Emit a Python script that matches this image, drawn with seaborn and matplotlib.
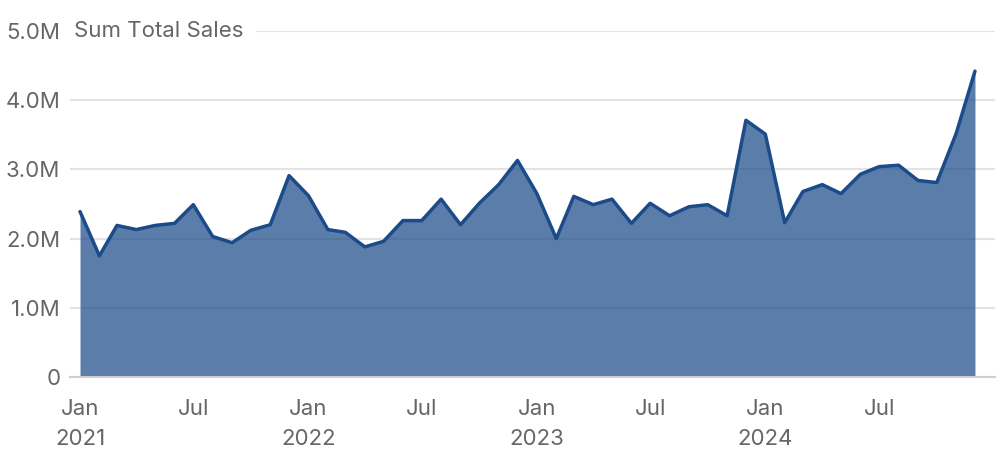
import numpy as np
import pandas as pd
import matplotlib
matplotlib.use("Agg")
import matplotlib.pyplot as plt
import seaborn as sns

# Monthly totals, Jan 2021 - Dec 2024 (in millions)
months = pd.date_range("2021-01-01", "2024-12-01", freq="MS")
sales_m = [
    2.39, 1.75, 2.19, 2.13, 2.19, 2.22, 2.49, 2.03, 1.94, 2.12, 2.20, 2.91,
    2.62, 2.13, 2.09, 1.88, 1.96, 2.26, 2.26, 2.57, 2.20, 2.51, 2.78, 3.13,
    2.65, 2.00, 2.61, 2.49, 2.57, 2.22, 2.51, 2.33, 2.46, 2.49, 2.33, 3.71,
    3.51, 2.23, 2.68, 2.78, 2.65, 2.93, 3.04, 3.06, 2.84, 2.81, 3.52, 4.42,
]
y_ticks = [0, 1e6, 2e6, 3e6, 4e6, 5e6]
y_labels = ["0", "1.0M", "2.0M", "3.0M", "4.0M", "5.0M"]
title = "Sum Total Sales"

df = pd.DataFrame({"month": months, "sales": np.array(sales_m) * 1e6})

sns.set_style("white")
plt.rcParams["font.family"] = ["Inter", "DejaVu Sans"]

line_color = "#1c4b8a"
text_color = "#666666"

fig = plt.figure(figsize=(10, 4.7), dpi=100)
ax = fig.add_axes([0.070, 0.198, 0.925, 0.736])

ax.fill_between(df["month"], df["sales"], color=line_color, alpha=0.72, lw=0, zorder=1)
sns.lineplot(data=df, x="month", y="sales", color=line_color, lw=2.5, ax=ax, zorder=3)

ax.set_ylim(0, 5e6)
ax.set_xlim(pd.Timestamp("2020-12-16"), pd.Timestamp("2025-01-02"))
ax.set_yticks(y_ticks)
ax.set_yticklabels(y_labels)
ax.yaxis.grid(True, color="#e3e3e3", lw=1.5, zorder=0)
ax.set_axisbelow(True)

xt = pd.date_range("2021-01-01", "2024-07-01", freq="6MS")
ax.set_xticks(xt)
ax.set_xticklabels([f"Jan\n{d.year}" if d.month == 1 else "Jul" for d in xt],
                   linespacing=1.6, va="top")

ax.tick_params(axis="both", length=0, labelsize=16, colors=text_color)
ax.tick_params(axis="y", pad=7)
ax.tick_params(axis="x", pad=16)

for s in ["top", "right", "left"]:
    ax.spines[s].set_visible(False)
ax.spines["bottom"].set_color("#cfcfcf")
ax.spines["bottom"].set_linewidth(1.5)
ax.set_xlabel("")
ax.set_ylabel("")

# title sits on the 5.0M gridline, masking it
ax.text(0.004, 5e6, title, transform=ax.get_yaxis_transform(), fontsize=16,
        color=text_color, va="center", ha="left", zorder=5,
        bbox=dict(facecolor="white", edgecolor="none", pad=9))

fig.savefig("out.png", dpi=100)
